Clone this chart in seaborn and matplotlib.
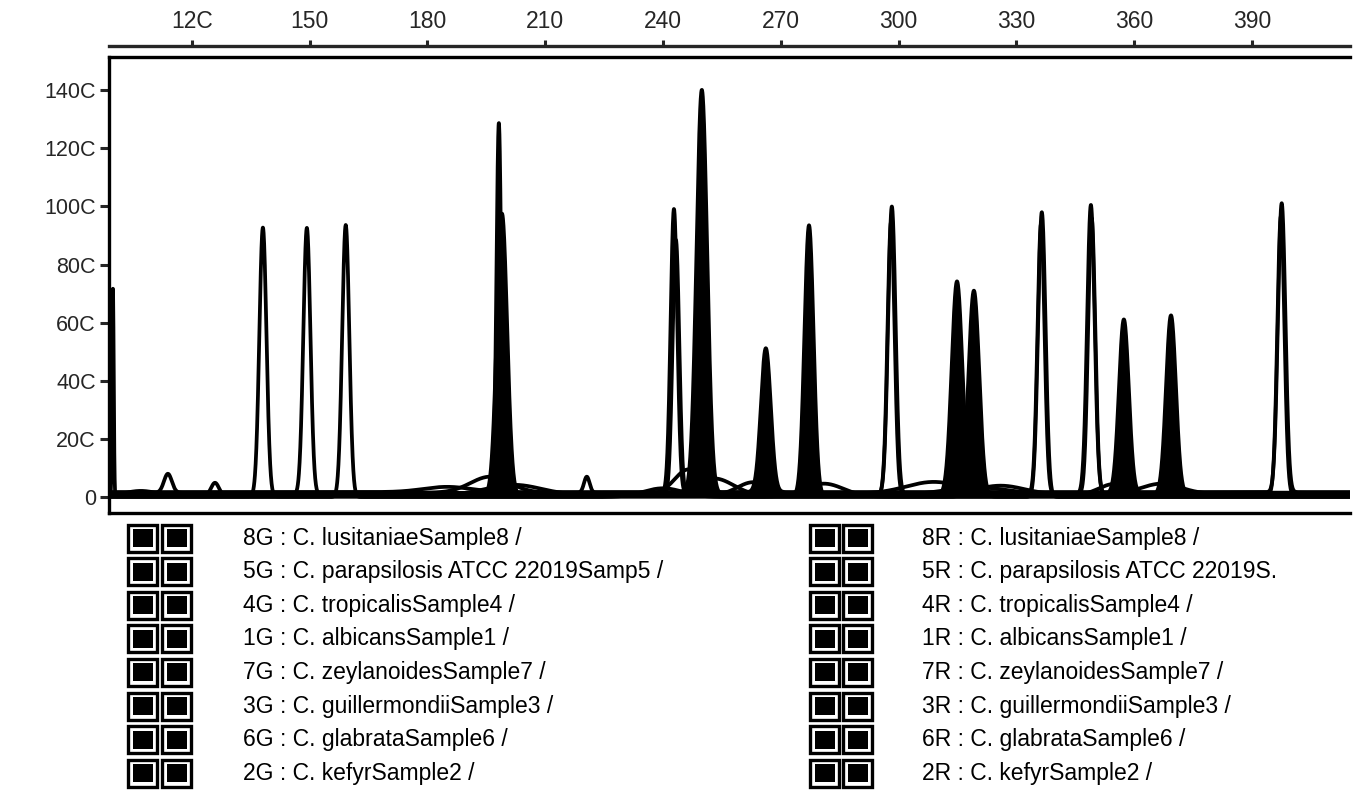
import numpy as np
import pandas as pd
import matplotlib
matplotlib.use("Agg")
import matplotlib.pyplot as plt
import seaborn as sns
from matplotlib.patches import Rectangle

sns.set_style("ticks")
plt.rcParams["font.family"] = ["Liberation Sans", "DejaVu Sans"]

# ---------------- data ----------------
samples = ["8G", "5G", "4G", "1G", "7G", "3G", "6G", "2G",
           "8R", "5R", "4R", "1R", "7R", "3R", "6R", "2R"]
baseline_level = [2, 8, 0, 14, 5, 11, 17, 3, 6, 1, 12, 9, 15, 4, 7, 10]

legend_left = [
    "8G : C. lusitaniaeSample8 /",
    "5G : C. parapsilosis ATCC 22019Samp5 /",
    "4G : C. tropicalisSample4 /",
    "1G : C. albicansSample1 /",
    "7G : C. zeylanoidesSample7 /",
    "3G : C. guillermondiiSample3 /",
    "6G : C. glabrataSample6 /",
    "2G : C. kefyrSample2 /",
]
legend_right = [
    "8R : C. lusitaniaeSample8 /",
    "5R : C. parapsilosis ATCC 22019S.",
    "4R : C. tropicalisSample4 /",
    "1R : C. albicansSample1 /",
    "7R : C. zeylanoidesSample7 /",
    "3R : C. guillermondiiSample3 /",
    "6R : C. glabrataSample6 /",
    "2R : C. kefyrSample2 /",
]

# sharp peaks
peak_sample = ["8G", "8G", "5G", "5G", "4G", "4G", "1G", "1G", "7G", "7G",
               "3G", "3G", "6G", "6G", "2G", "8R", "5R", "4R", "1R",
               "7R", "7R", "3R", "6R", "2R", "2R", "6R"]
peak_size = [99.9, 138.1, 149.3, 298.3, 159.2, 336.5, 198.2, 242.8, 199.0, 243.3,
             249.9, 349.0, 266.2, 397.6, 277.2, 314.9, 319.2, 357.4, 369.4,
             113.9, 220.6, 125.9, 298.1, 349.2, 336.3, 397.4]
peak_rfu = [715, 925, 918, 991, 936, 980, 1273, 977, 970, 880,
            1390, 994, 495, 994, 932, 736, 709, 599, 616,
            65, 55, 45, 940, 950, 930, 960]
peak_sigma = [0.2, 0.9, 0.9, 0.95, 0.9, 0.95, 0.6, 0.85, 1.3, 0.85,
              1.35, 0.95, 1.25, 0.95, 1.15, 1.35, 1.35, 1.25, 1.25,
              1.0, 0.7, 1.0, 0.9, 0.9, 0.9, 0.9]
peak_filled = [0, 0, 0, 0, 0, 0, 1, 0, 1, 0,
               1, 0, 1, 0, 1, 1, 1, 1, 1,
               0, 0, 0, 0, 0, 0, 0]

# broad humps under the peaks
hump_sample = ["7R", "6R", "2R", "3R", "8R", "5R", "4R", "1R", "7G", "3G",
               "2G", "6G", "4G", "5G"]
hump_size = [196, 202, 246.5, 253, 263, 281, 309, 326, 355, 367,
             107, 185, 240, 320]
hump_rfu = [55, 35, 85, 60, 45, 45, 40, 30, 40, 35,
            18, 18, 30, 25]
hump_sigma = [5, 7, 3.5, 5, 4, 5, 7, 6, 4, 5,
              4, 6, 5, 8]

y_ticks = [0, 200, 400, 600, 800, 1000, 1200, 1400]
y_labels = ["0", "20C", "40C", "60C", "80C", "100C", "120C", "140C"]
top_ticks = [120, 150, 180, 210, 240, 270, 300, 330, 360, 390]
top_labels = ["12C", "150", "180", "210", "240", "270", "300", "330", "360", "390"]

# ---------------- build traces ----------------
x = np.linspace(98.9, 415.0, 7000)


def gauss(pos, h, s):
    return h * np.exp(-0.5 * ((x - pos) / s) ** 2)


frames = []
fills = []
for s, base in zip(samples, baseline_level):
    y = np.full_like(x, float(base))
    for ps, pp, ph, sg, fl in zip(peak_sample, peak_size, peak_rfu, peak_sigma, peak_filled):
        if ps == s:
            g = gauss(pp, ph, sg)
            y = y + g
            if fl:
                fills.append((base, g))
    for hs, hp, hh, hg in zip(hump_sample, hump_size, hump_rfu, hump_sigma):
        if hs == s:
            y = y + gauss(hp, hh, hg)
    frames.append(pd.DataFrame({"size": x, "rfu": y, "sample": s}))
df = pd.concat(frames, ignore_index=True)

# ---------------- figure ----------------
W, H = 1363, 795
fig = plt.figure(figsize=(W / 100, H / 100), dpi=100)
ax = fig.add_axes([109 / W, 1 - 513 / H, (1350 - 109) / W, (513 - 57) / H])

for base, g in fills:
    ax.fill_between(x, base, base + g, color="black", lw=0, zorder=2)

sns.lineplot(data=df, x="size", y="rfu", hue="sample",
             palette={s: "black" for s in samples}, legend=False,
             estimator=None, sort=False, linewidth=2.7, ax=ax, zorder=3)

ax.set_xlim(98.9, 415.0)
ax.set_ylim(-55, 1514)
ax.set_xlabel("")
ax.set_ylabel("")
ax.set_yticks(y_ticks, labels=y_labels)
ax.tick_params(axis="y", direction="out", length=6.5, width=2.2, pad=3,
               labelsize=15.5)
ax.tick_params(axis="x", bottom=False, top=False, labelbottom=False)
for side in ["left", "bottom", "top"]:
    ax.spines[side].set_linewidth(2.4)
    ax.spines[side].set_color("black")
ax.spines["right"].set_visible(False)

sec = ax.secondary_xaxis("top")
sec.set_xticks(top_ticks, labels=top_labels)
sec.spines["top"].set_position(("outward", 8))
sec.spines["top"].set_linewidth(2.4)
sec.tick_params(direction="out", length=4.5, width=2.2, pad=5, labelsize=16.5)

# ---------------- legend ----------------
lax = fig.add_axes([0, 0, 1, 1], zorder=-1)
lax.set_xlim(0, W)
lax.set_ylim(H, 0)
lax.axis("off")

row0, dy = 538, 33.6
bw, bh = 29, 27
for col_boxes, col_text, labels in [((128, 162), 243, legend_left),
                                    ((810, 843), 922, legend_right)]:
    for i, lab in enumerate(labels):
        yc = row0 + dy * i
        for bx in col_boxes:
            lax.add_patch(Rectangle((bx, yc - bh / 2), bw, bh, fill=False,
                                    edgecolor="black", lw=2.4))
            lax.add_patch(Rectangle((bx + 4.5, yc - bh / 2 + 4.5), bw - 9, bh - 9,
                                    facecolor="black", edgecolor="none"))
        lax.text(col_text, yc, lab, fontsize=16.5, va="center", ha="left",
                 color="black")

fig.savefig("out.png", dpi=100, facecolor="white")
